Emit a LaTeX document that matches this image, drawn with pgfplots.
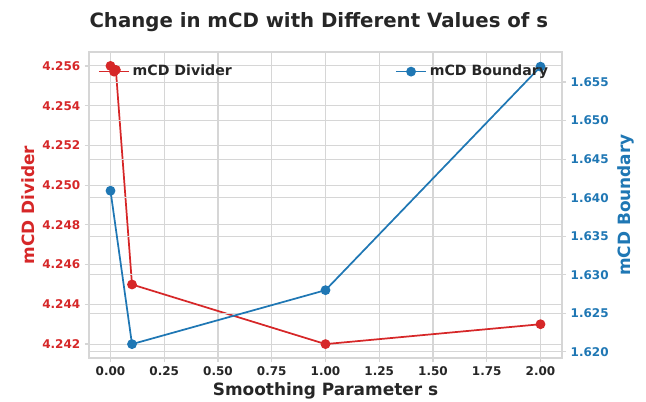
\documentclass[border=0pt]{standalone}
\usepackage{pgfplots}
\pgfplotsset{compat=1.18}
\usepackage{fontspec}
\setmainfont{DejaVu Sans}
\definecolor{tred}{HTML}{D62728}
\definecolor{tblue}{HTML}{1F77B4}
\definecolor{gridc}{HTML}{D6D6D6}
\definecolor{txt}{HTML}{262626}
\pgfplotsset{legend image code/.code={%
  \draw[mark repeat=2, mark phase=2, #1] plot coordinates {(0cm,0cm) (0.4cm,0cm) (0.8cm,0cm)};}}
\begin{document}
\begin{tikzpicture}
\useasboundingbox (-66.75pt,-32.25pt) rectangle (417.75pt,268.5pt);
\pgfplotsset{common/.style={
  scale only axis, width=354.75pt, height=229.5pt,
  at={(0,0)}, anchor=south west,
  xmin=-0.1, xmax=2.1,
  axis line style={gridc, line width=0.9pt},
  tick style={gridc, line width=0.9pt},
  major tick length=3pt, tick align=outside,
  /pgf/number format/assume math mode=true,
  ticklabel style={font=\fontsize{9}{9}\selectfont\bfseries},
  label style={font=\fontsize{12.7}{13}\selectfont\bfseries},
  grid style={gridc, line width=0.8pt},
  legend style={fill=none, draw=none, font=\fontsize{10.6}{11}\selectfont\bfseries},
  legend cell align=left,
}}
\begin{axis}[common,
  ymin=4.2413, ymax=4.2567,
  xtick={0,0.25,0.5,0.75,1,1.25,1.5,1.75,2},
  xticklabel style={text=txt, /pgf/number format/.cd, fixed, fixed zerofill, precision=2},
  ytick={4.242,4.244,4.246,4.248,4.250,4.252,4.254,4.256},
  yticklabel style={text=tred, /pgf/number format/.cd, fixed, fixed zerofill, precision=3},
  scaled y ticks=false,
  xtick pos=bottom, ytick pos=left,
  xmajorgrids, ymajorgrids,
  xlabel={Smoothing Parameter s}, xlabel style={text=txt, yshift=2pt},
  ylabel={mCD Divider}, ylabel style={text=tred, yshift=-1pt},
  title={Change in mCD with Different Values of s},
  title style={font=\fontsize{14.8}{15}\selectfont\bfseries, text=txt, yshift=6pt, xshift=-5pt},
  legend style={at={(0.01,0.975)}, anchor=north west},
]
\addplot[tred, line width=1.3pt, mark=*, mark size=3pt,
  legend image post style={draw=tred, line width=1.3pt}] coordinates {
  (0,4.2560) (0.025,4.2558) (0.1,4.2450) (1,4.2420) (2,4.2430)
};
\addlegendentry{\textcolor{txt}{mCD Divider}}
\end{axis}
\begin{axis}[common,
  ymin=1.6192, ymax=1.6589,
  xtick=\empty,
  ytick={1.620,1.625,1.630,1.635,1.640,1.645,1.650,1.655},
  yticklabel style={text=tblue, /pgf/number format/.cd, fixed, fixed zerofill, precision=3},
  scaled y ticks=false,
  ytick pos=right, yticklabel pos=right,
  ymajorgrids,
  ylabel={mCD Boundary}, ylabel style={text=tblue},
  legend style={at={(0.985,0.975)}, anchor=north east},
]
\addplot[tblue, line width=1.3pt, mark=*, mark size=3pt,
  legend image post style={draw=tblue, line width=1.3pt}] coordinates {
  (0,1.6409) (0.1,1.6210) (1,1.6280) (2,1.6570)
};
\addlegendentry{\textcolor{txt}{mCD Boundary}}
\end{axis}
\end{tikzpicture}
\end{document}
